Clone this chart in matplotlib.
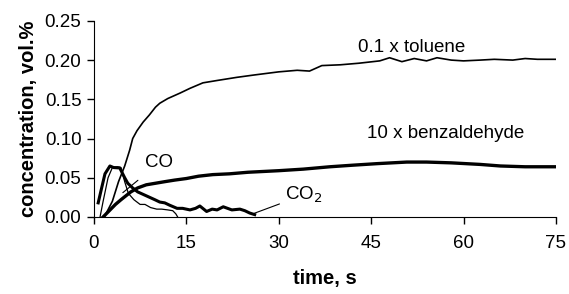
import matplotlib
matplotlib.use('Agg')
import matplotlib.pyplot as plt

plt.rcParams['font.family'] = ['Liberation Sans', 'DejaVu Sans']

# 0.1 x toluene
tol_t = [1.7, 3.0, 4.0, 5.0, 5.8, 6.3, 7.0, 8.0, 9.0, 10.0, 10.7, 12.0, 14.0, 15.6, 17.7, 20.0,
         23.2, 26.0, 30.0, 33.0, 35.0, 37.0, 40.0, 43.0, 46.4, 48.0, 50.0, 52.0, 54.0, 55.7,
         58.0, 60.0, 62.7, 65.0, 68.0, 70.0, 72.0, 75.0]
tol_c = [0.0, 0.02, 0.045, 0.065, 0.085, 0.10, 0.11, 0.121, 0.13, 0.14, 0.145, 0.151, 0.158, 0.164,
         0.171, 0.174, 0.178, 0.181, 0.185, 0.187, 0.186, 0.193, 0.194, 0.196, 0.199, 0.203,
         0.198, 0.202, 0.199, 0.203, 0.200, 0.199, 0.200, 0.201, 0.200, 0.202, 0.201, 0.201]

# 10 x benzaldehyde
bza_t = [1.5, 2.5, 3.5, 4.4, 6.0, 7.1, 8.5, 10.0, 11.5, 13.1, 15.0, 17.0, 19.3, 22.0, 25.0, 30.0,
         34.0, 38.3, 42.0, 46.0, 50.8, 54.0, 58.0, 62.7, 66.0, 70.0, 75.0]
bza_c = [0.0, 0.008, 0.016, 0.022, 0.032, 0.037, 0.041, 0.043, 0.045, 0.047, 0.049, 0.052, 0.054,
         0.055, 0.057, 0.059, 0.061, 0.064, 0.066, 0.068, 0.070, 0.070, 0.069, 0.067, 0.065,
         0.064, 0.064]

# CO2
co2_t = [0.7, 1.2, 1.8, 2.6, 3.2, 4.2, 5.0, 5.5, 6.3, 7.1, 8.5, 9.9, 10.7, 11.5, 12.3, 13.5, 14.4,
         15.6, 16.5, 17.2, 18.3, 19.2, 20.0, 21.0, 22.4, 23.7, 24.5, 25.3, 26.1]
co2_c = [0.018, 0.035, 0.055, 0.065, 0.063, 0.0625, 0.05, 0.043, 0.037, 0.032, 0.027, 0.022, 0.019,
         0.018, 0.015, 0.011, 0.011, 0.009, 0.011, 0.014, 0.007, 0.010, 0.009, 0.013, 0.009,
         0.010, 0.008, 0.005, 0.003]

# CO
co_t = [1.0, 1.5, 2.3, 3.0, 3.8, 4.4, 5.0, 5.6, 6.5, 7.5, 8.3, 9.2, 10.2, 11.0, 12.0, 12.8, 13.3, 13.6]
co_c = [0.0, 0.02, 0.05, 0.063, 0.064, 0.063, 0.045, 0.03, 0.022, 0.016, 0.016, 0.012, 0.010,
        0.010, 0.009, 0.008, 0.004, 0.0]

fig = plt.figure(figsize=(5.69, 2.94), dpi=100)
ax = fig.add_axes([0.165, 0.262, 0.812, 0.667])

ax.plot(tol_t, tol_c, color='black', lw=1.2)
ax.plot(bza_t, bza_c, color='black', lw=2.4)
ax.plot(co2_t, co2_c, color='black', lw=2.2)
ax.plot(co_t, co_c, color='black', lw=0.9)

ax.text(51.6, 0.2155, '0.1 x toluene', fontsize=13.5, ha='center', va='center')
ax.text(57.1, 0.107, '10 x benzaldehyde', fontsize=13.5, ha='center', va='center')
ax.annotate('CO', xy=(4.7, 0.031), xytext=(10.6, 0.069), fontsize=13.5, ha='center', va='center',
            arrowprops=dict(arrowstyle='-', color='black', lw=0.8, shrinkA=7, shrinkB=0))
ax.annotate('CO$_2$', xy=(25.8, 0.004), xytext=(31.0, 0.028), fontsize=13.5, ha='left', va='center',
            arrowprops=dict(arrowstyle='-', color='black', lw=0.8, shrinkA=2, shrinkB=0))

ax.set_xlim(0, 75)
ax.set_ylim(0, 0.25)
ax.set_xticks([0, 15, 30, 45, 60, 75])
ax.set_yticks([0.0, 0.05, 0.10, 0.15, 0.20, 0.25])
ax.set_yticklabels(['0.00', '0.05', '0.10', '0.15', '0.20', '0.25'])
ax.tick_params(labelsize=13.5, length=5, width=1, direction='out', pad=4)
ax.tick_params(axis='x', pad=8)
ax.spines['top'].set_visible(False)
ax.spines['right'].set_visible(False)
ax.set_xlabel('time, s', fontsize=14.5, fontweight='bold', labelpad=12)
ax.set_ylabel('concentration, vol.%', fontsize=14.5, fontweight='bold', labelpad=5)

fig.savefig('out.png', dpi=100)
